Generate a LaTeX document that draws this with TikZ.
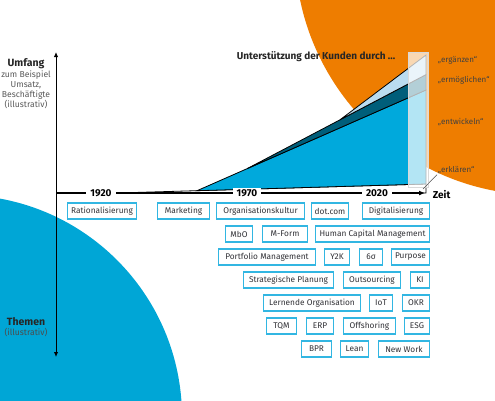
\documentclass[tikz,border=0pt]{standalone}
\usepackage{fontspec}
\setmainfont{Fira Sans}
\usetikzlibrary{arrows.meta}

\definecolor{orangebg}{RGB}{238,125,0}
\definecolor{bluebg}{RGB}{0,166,214}
\definecolor{chartblue}{RGB}{0,169,220}
\definecolor{chartteal}{RGB}{0,94,122}
\definecolor{chartlight}{RGB}{186,220,240}
\definecolor{boxframe}{RGB}{50,182,226}
\definecolor{textgray}{RGB}{50,50,55}

\tikzset{
  topic/.style={draw=boxframe, line width=1.4pt, fill=white, text=textgray,
    font=\fontsize{8.3}{9}\selectfont, minimum height=16pt, inner sep=1pt},
  year/.style={fill=white, font=\bfseries\fontsize{10}{11}\selectfont,
    inner xsep=4pt, inner ysep=1pt},
  phase/.style={anchor=west, text=black!75, font=\fontsize{8}{9}\selectfont,
    inner sep=0.75pt},
  axislabel/.style={align=center, text=black!65, font=\fontsize{8.6}{10.2}\selectfont,
    inner sep=0.75pt},
  layer/.style={line width=0.8pt, draw=black},
}

\begin{document}
\begin{tikzpicture}[x=1pt,y=1pt,yscale=-1,xscale=1]
\useasboundingbox (0,0) rectangle (495,400);

% background circles
\begin{scope}
\clip (0,0) rectangle (495,400);
\fill[orangebg] (540,-50) circle [radius=245];
\fill[bluebg] (-40,417) circle [radius=222];
\end{scope}

% axes end points
\coordinate (o) at (56,193);
\coordinate (xend) at (425,193);
\coordinate (ytop) at (56,52);
\coordinate (ybot) at (56,357);

% layers of the chart
\filldraw[layer, fill=white] (117,193) -- (426,184) -- (426,193) -- cycle;
\filldraw[layer, fill=chartblue] (197,190.7) -- (426,90) -- (426,184) -- cycle;
\filldraw[layer, fill=chartteal] (247,168.7) -- (426,74.6) -- (426,90) -- cycle;
\filldraw[layer, fill=chartlight] (340,119.8) -- (426,55) -- (426,74.6) -- cycle;

% glass panel
\fill[white, opacity=0.7] (408,52) rectangle (428,187);
\draw[black!15, line width=0.5pt] (408,52) rectangle (428,187);

% axes
\draw[line width=1pt, {Latex[length=5pt,width=4.5pt]}-{Latex[length=5pt,width=4.5pt]}] (ybot) -- (ytop);
\draw[line width=1.5pt, -{Latex[length=6pt,width=5pt]}] (o) -- (xend);

% years
\node[year] (y1920) at (101,193) {1920};
\node[year] (y1970) at (247,193) {1970};
\node[year] (y2020) at (377,193) {2020};
\node[anchor=west, inner sep=0.75pt, font=\bfseries\fontsize{10}{11}\selectfont] (zeit) at (432,195) {Zeit};

% titles
\node[font=\bfseries\fontsize{10}{11}\selectfont, text=black!85] (title) at (316,57) {Unterstützung der Kunden durch ...};
\node[phase] (erg) at (437,60) {„ergänzen“};
\node[phase] (erm) at (437,80) {„ermöglichen“};
\node[phase] (ent) at (437,122) {„entwickeln“};
\node[phase] (erk) at (437,170) {„erklären“};
\coordinate (ptr) at (423,189);
\draw[black!70, line width=0.5pt] (erk.south west) -- (ptr);

\node[axislabel] (umfang) at (26,84) {{\bfseries\fontsize{10.5}{11}\selectfont\color{black!85}Umfang}\\zum Beispiel\\Umsatz,\\Beschäftigte\\(illustrativ)};
\node[axislabel, text=black!70] (themen) at (26,327) {{\bfseries\fontsize{10.5}{11}\selectfont\color{black!85}Themen}\\(illustrativ)};

% topics
\node[topic, minimum width=69] (rat) at (102,211) {Rationalisierung};
\node[topic, minimum width=52] (mkt) at (183.5,211) {Marketing};
\node[topic, minimum width=88] (org) at (260.5,211) {Organisationskultur};
\node[topic, minimum width=37] (dot) at (330,211) {dot.com};
\node[topic, minimum width=67] (dig) at (396,211) {Digitalisierung};

\node[topic, minimum width=27] (mbo) at (239,234) {MbO};
\node[topic, minimum width=45] (mform) at (285,234) {M-Form};
\node[topic, minimum width=114] (hcm) at (372.5,234) {Human Capital Management};

\node[topic, minimum width=97] (pfm) at (267,257) {Portfolio Management};
\node[topic, minimum width=25] (y2k) at (337,257) {Y2K};
\node[topic, minimum width=23] (sig) at (371,257) {6σ};
\node[topic, minimum width=38] (pur) at (410.5,257) {Purpose};

\node[topic, minimum width=90] (stp) at (288.5,280) {Strategische Planung};
\node[topic, minimum width=57] (out) at (372,280) {Outsourcing};
\node[topic, minimum width=19] (ki) at (420,280) {KI};

\node[topic, minimum width=97] (lo) at (312,303) {Lernende Organisation};
\node[topic, minimum width=23] (iot) at (381,303) {IoT};
\node[topic, minimum width=27] (okr) at (416,303) {OKR};

\node[topic, minimum width=30] (tqm) at (281.5,326) {TQM};
\node[topic, minimum width=27] (erp) at (320,326) {ERP};
\node[topic, minimum width=52] (off) at (369.5,326) {Offshoring};
\node[topic, minimum width=25] (esg) at (417,326) {ESG};

\node[topic, minimum width=30] (bpr) at (316.5,349) {BPR};
\node[topic, minimum width=28] (lean) at (354.5,349) {Lean};
\node[topic, minimum width=51] (nw) at (404,349) {New Work};

\end{tikzpicture}
\end{document}
